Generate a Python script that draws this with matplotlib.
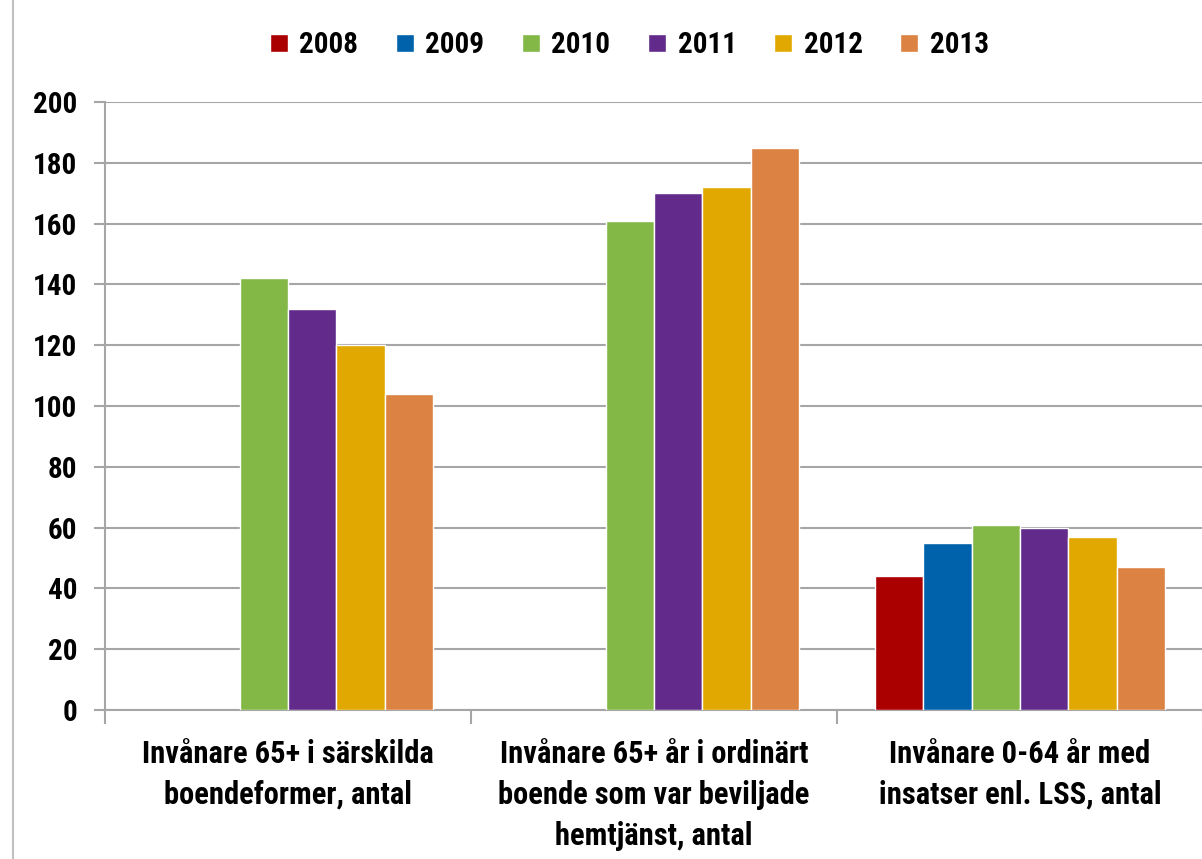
import numpy as np
import matplotlib
matplotlib.use("Agg")
import matplotlib.pyplot as plt
from matplotlib.lines import Line2D

categories = ["Invånare 65+ i särskilda\nboendeformer, antal",
              "Invånare 65+ år i ordinärt\nboende som var beviljade\nhemtjänst, antal",
              "Invånare 0-64 år med\ninsatser enl. LSS, antal"]
years = ["2008", "2009", "2010", "2011", "2012", "2013"]
v2008 = [np.nan, np.nan, 44]
v2009 = [np.nan, np.nan, 55]
v2010 = [142, 161, 61]
v2011 = [132, 170, 60]
v2012 = [120, 172, 57]
v2013 = [104, 185, 47]
yticks = [0, 20, 40, 60, 80, 100, 120, 140, 160, 180, 200]

series = [v2008, v2009, v2010, v2011, v2012, v2013]
colors = ["#ab0000", "#0062ab", "#83b847", "#622b8b", "#e0a800", "#dc8242"]

plt.rcParams['font.family'] = ['Liberation Sans Narrow', 'Roboto Condensed', 'DejaVu Sans']
plt.rcParams['font.weight'] = 'bold'

fig = plt.figure(figsize=(12.02, 8.59), dpi=100)
ax = fig.add_axes([105/1202, 1 - 710/859, 1098/1202, (710-102)/859])

x = np.arange(len(categories))
w = 0.1325
for j, (vals, c) in enumerate(zip(series, colors)):
    vals = np.array(vals, dtype=float)
    m = ~np.isnan(vals)
    ax.bar(x[m] + (j - 2.5) * w, vals[m], width=w, color=c,
           edgecolor='white', linewidth=1.0, zorder=3, label=years[j])

ax.set_xlim(-0.5, 2.5)
ax.set_ylim(0, 200)
ax.set_yticks(yticks)
ax.set_yticklabels([str(t) for t in yticks], fontsize=21, fontweight='bold')
ax.yaxis.grid(True, color='#a6a6a6', linewidth=1.5, zorder=0)
ax.set_axisbelow(True)
ax.tick_params(axis='y', length=8, width=1.5, color='#a6a6a6', pad=12)

ax.set_xticks(x)
ax.set_xticklabels(categories, fontsize=22, fontweight='bold', linespacing=1.45)
ax.tick_params(axis='x', length=0, pad=21)
ax.set_xticks([-0.5, 0.5, 1.5, 2.5], minor=True)
ax.tick_params(axis='x', which='minor', length=10, width=1.5, color='#a6a6a6')

for s in ['top', 'right']:
    ax.spines[s].set_visible(False)
for s in ['left', 'bottom']:
    ax.spines[s].set_color('#a6a6a6')
    ax.spines[s].set_linewidth(1.5)

handles = [Line2D([0], [0], marker='s', linestyle='none', markersize=13,
                  markerfacecolor=c, markeredgecolor='white') for c in colors]
fig.legend(handles, years, loc='center', bbox_to_anchor=(625/1202, 1 - 45/859),
           ncol=6, frameon=False, handletextpad=0.1, columnspacing=1.0,
           handlelength=1.2, prop={'weight': 'bold', 'size': 21})

fig.add_artist(Line2D([13/1202, 13/1202], [0, 1], color='#c0c0c0', linewidth=1.5,
                      transform=fig.transFigure))

fig.savefig("out.png", dpi=100)
